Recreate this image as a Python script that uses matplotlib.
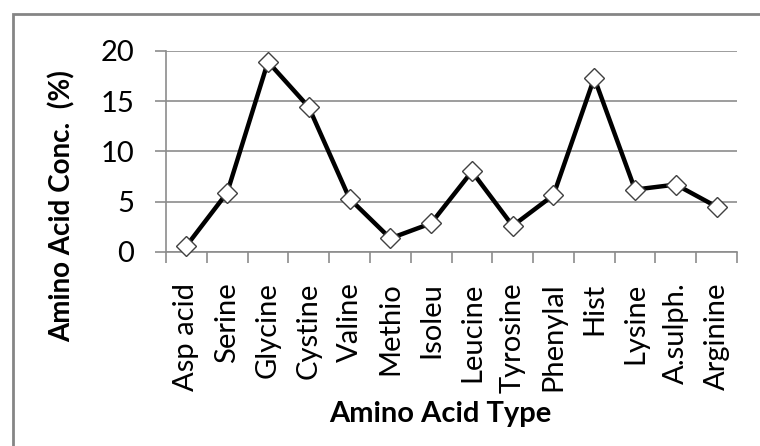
import matplotlib
matplotlib.use("Agg")
import matplotlib.pyplot as plt
from matplotlib.patches import Rectangle

# amino acid concentrations (%)
acids = ["Asp acid", "Serine", "Glycine", "Cystine", "Valine", "Methio", "Isoleu",
         "Leucine", "Tyrosine", "Phenylal", "Hist", "Lysine", "A.sulph.", "Arginine"]
conc = [0.6, 5.9, 18.9, 14.4, 5.3, 1.35, 2.85, 8.0, 2.6, 5.65, 17.3, 6.2, 6.7, 4.5]
y_ticks = [0, 5, 10, 15, 20]

plt.rcParams["font.family"] = ["Lato", "DejaVu Sans"]

fig = plt.figure(figsize=(7.6, 4.46), dpi=100)
ax = fig.add_axes([166 / 760, 1 - 252 / 446, (737 - 166) / 760, (252 - 50.7) / 446])

x = list(range(len(acids)))
ax.plot(x, conc, color="black", linewidth=3.2, marker="D", markersize=10,
        markerfacecolor="white", markeredgecolor="#404040", markeredgewidth=1.0,
        zorder=3, clip_on=False)

ax.set_xlim(-0.5, len(acids) - 0.5)
ax.set_ylim(0, 20)
ax.set_yticks(y_ticks)
ax.set_yticklabels([str(v) for v in y_ticks], fontsize=21)
ax.set_xticks(x)
ax.set_xticklabels(acids, rotation=90, fontsize=21, va="top", ha="center")
ax.set_xticks([i - 0.5 for i in range(len(acids) + 1)], minor=True)

ax.grid(axis="y", color="#8c8c8c", linewidth=1.2)
ax.set_axisbelow(True)
for s in ["top", "right"]:
    ax.spines[s].set_visible(False)
for s in ["left", "bottom"]:
    ax.spines[s].set_color("#8c8c8c")
    ax.spines[s].set_linewidth(1.2)

ax.tick_params(axis="y", length=8, width=1.2, color="#8c8c8c", pad=15)
ax.tick_params(axis="x", which="major", length=0, pad=22)
ax.tick_params(axis="x", which="minor", length=8, width=1.2, color="#8c8c8c")

fig.text(62 / 760, 1 - 206 / 446, "Amino Acid Conc.  (%)", rotation=90,
         ha="center", va="center", fontsize=20, fontweight="bold")
fig.text(440 / 760, 1 - 414 / 446, "Amino Acid Type", ha="center", va="center",
         fontsize=21, fontweight="bold")

# chart frame, running off the right and bottom edges
fig.patches.append(Rectangle((13 / 760, -0.05), 1.0, 1 - 14 / 446 + 0.05,
                             transform=fig.transFigure, fill=False,
                             edgecolor="#858585", linewidth=2))

fig.savefig("out.png", dpi=100)
